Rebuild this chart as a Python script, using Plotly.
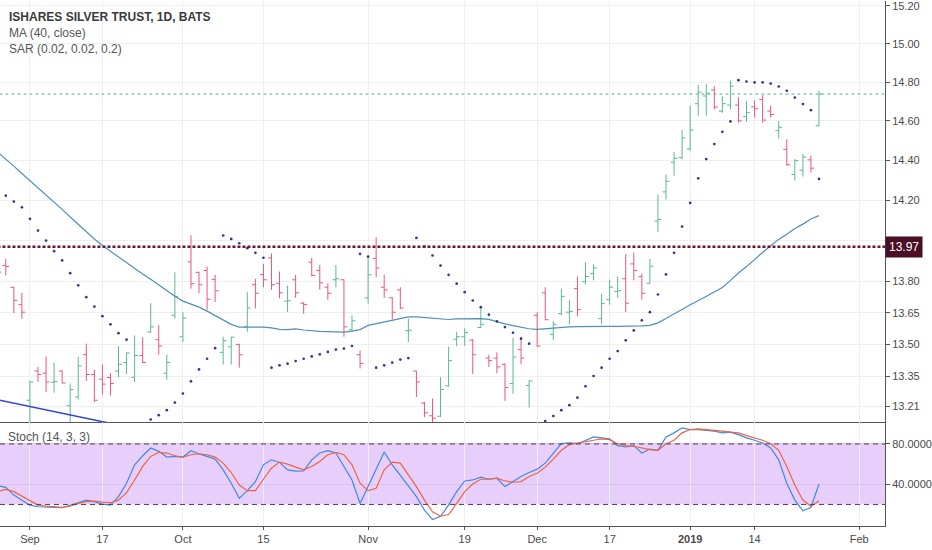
import math
import plotly.graph_objects as go

# ---------------- data ----------------
bar_dates = [
    "2018-08-28", "2018-08-29", "2018-08-30", "2018-08-31",
    "2018-09-04", "2018-09-05", "2018-09-06", "2018-09-07", "2018-09-10", "2018-09-11", "2018-09-12",
    "2018-09-13", "2018-09-14", "2018-09-17", "2018-09-18", "2018-09-19", "2018-09-20", "2018-09-21",
    "2018-09-24", "2018-09-25", "2018-09-26", "2018-09-27", "2018-09-28",
    "2018-10-01", "2018-10-02", "2018-10-03", "2018-10-04", "2018-10-05", "2018-10-08", "2018-10-09",
    "2018-10-10", "2018-10-11", "2018-10-12", "2018-10-15", "2018-10-16", "2018-10-17", "2018-10-18",
    "2018-10-19", "2018-10-22", "2018-10-23", "2018-10-24", "2018-10-25", "2018-10-26", "2018-10-29",
    "2018-10-30", "2018-10-31",
    "2018-11-01", "2018-11-02", "2018-11-05", "2018-11-06", "2018-11-07", "2018-11-08", "2018-11-09",
    "2018-11-12", "2018-11-13", "2018-11-14", "2018-11-15", "2018-11-16", "2018-11-19", "2018-11-20",
    "2018-11-21", "2018-11-23", "2018-11-26", "2018-11-27", "2018-11-28", "2018-11-29", "2018-11-30",
    "2018-12-03", "2018-12-04", "2018-12-06", "2018-12-07", "2018-12-10", "2018-12-11", "2018-12-12",
    "2018-12-13", "2018-12-14", "2018-12-17", "2018-12-18", "2018-12-19", "2018-12-20", "2018-12-21",
    "2018-12-24", "2018-12-26", "2018-12-27", "2018-12-28", "2018-12-31",
    "2019-01-02", "2019-01-03", "2019-01-04", "2019-01-07", "2019-01-08", "2019-01-09", "2019-01-10",
    "2019-01-11", "2019-01-14", "2019-01-15", "2019-01-16", "2019-01-17", "2019-01-18", "2019-01-22",
    "2019-01-23", "2019-01-24", "2019-01-25",
]
future_dates = ["2019-01-28", "2019-01-29", "2019-01-30", "2019-01-31", "2019-02-01"]

opens = [
    13.870, 13.878, 13.773, 13.689,
    13.238, 13.374, 13.364, 13.322, 13.374, 13.213, 13.253, 13.451, 13.358, 13.336, 13.344, 13.374,
    13.414, 13.345, 13.447, 13.558, 13.522, 13.364, 13.638,
    13.536, 13.896, 13.845, 13.854, 13.810, 13.462, 13.488, 13.500, 13.583, 13.785, 13.834, 13.915,
    13.792, 13.706, 13.809, 13.696, 13.894, 13.854, 13.773, 13.809, 13.809, 13.569, 13.451,
    13.722, 13.913, 13.773, 13.722, 13.760, 13.565, 13.374, 13.225, 13.166, 13.164, 13.305, 13.524,
    13.536, 13.520, 13.580, 13.435, 13.435, 13.406, 13.316, 13.475, 13.307,
    13.638, 13.746, 13.547, 13.646, 13.653, 13.766, 13.800, 13.840, 13.622, 13.713, 13.752, 13.814,
    13.886, 13.825, 13.792, 14.096, 14.241, 14.390, 14.413,
    14.457, 14.688, 14.728, 14.759, 14.650, 14.681, 14.681, 14.622, 14.672, 14.710, 14.650, 14.550,
    14.455, 14.328, 14.350, 14.402, 14.575,
]
highs = [
    13.930, 13.911, 13.775, 13.746,
    13.328, 13.393, 13.443, 13.414, 13.378, 13.316, 13.440, 13.503, 13.381, 13.405, 13.364, 13.491,
    13.462, 13.542, 13.533, 13.696, 13.591, 13.451, 13.845,
    13.653, 14.026, 13.848, 13.873, 13.833, 13.536, 13.536, 13.502, 13.749, 13.814, 13.886, 13.937,
    13.849, 13.781, 13.833, 13.702, 13.915, 13.881, 13.792, 13.881, 13.811, 13.638, 13.471,
    13.921, 14.017, 13.834, 13.725, 13.773, 13.622, 13.376, 13.230, 13.246, 13.345, 13.488, 13.560,
    13.577, 13.525, 13.680, 13.451, 13.462, 13.410, 13.531, 13.536, 13.330,
    13.653, 13.773, 13.610, 13.766, 13.713, 13.825, 13.894, 13.883, 13.742, 13.810, 13.825, 13.934,
    13.942, 13.838, 13.911, 14.228, 14.328, 14.443, 14.553,
    14.678, 14.787, 14.790, 14.779, 14.727, 14.808, 14.722, 14.701, 14.705, 14.732, 14.678, 14.600,
    14.506, 14.406, 14.431, 14.423, 14.755,
]
lows = [
    13.820, 13.830, 13.649, 13.622,
    13.120, 13.323, 13.276, 13.273, 13.316, 13.120, 13.241, 13.328, 13.230, 13.265, 13.260, 13.345,
    13.361, 13.323, 13.412, 13.555, 13.451, 13.334, 13.622,
    13.511, 13.766, 13.744, 13.665, 13.702, 13.405, 13.405, 13.390, 13.560, 13.671, 13.773, 13.760,
    13.720, 13.653, 13.722, 13.646, 13.825, 13.761, 13.713, 13.773, 13.536, 13.562, 13.386,
    13.694, 13.822, 13.722, 13.617, 13.668, 13.511, 13.253, 13.160, 13.130, 13.160, 13.300, 13.491,
    13.492, 13.361, 13.577, 13.394, 13.364, 13.235, 13.268, 13.406, 13.204,
    13.488, 13.615, 13.520, 13.638, 13.595, 13.633, 13.787, 13.806, 13.595, 13.689, 13.722, 13.653,
    13.806, 13.713, 13.790, 14.042, 14.203, 14.322, 14.406,
    14.448, 14.627, 14.627, 14.659, 14.642, 14.659, 14.591, 14.596, 14.617, 14.591, 14.617, 14.510,
    14.372, 14.298, 14.318, 14.338, 14.573,
]
closes = [
    13.846, 13.873, 13.710, 13.653,
    13.323, 13.358, 13.323, 13.325, 13.318, 13.288, 13.398, 13.358, 13.238, 13.313, 13.316, 13.406,
    13.459, 13.447, 13.414, 13.583, 13.492, 13.414, 13.729,
    13.625, 13.790, 13.785, 13.715, 13.756, 13.517, 13.534, 13.451, 13.673, 13.744, 13.809, 13.785,
    13.746, 13.708, 13.746, 13.689, 13.830, 13.794, 13.744, 13.814, 13.583, 13.612, 13.410,
    13.833, 13.866, 13.760, 13.653, 13.673, 13.567, 13.323, 13.180, 13.155, 13.288, 13.423, 13.536,
    13.556, 13.451, 13.595, 13.423, 13.394, 13.297, 13.440, 13.435, 13.328,
    13.492, 13.617, 13.595, 13.729, 13.656, 13.665, 13.825, 13.866, 13.694, 13.773, 13.756, 13.696,
    13.854, 13.744, 13.875, 14.104, 14.294, 14.410, 14.513,
    14.553, 14.748, 14.742, 14.671, 14.688, 14.779, 14.600, 14.642, 14.662, 14.604, 14.633, 14.567,
    14.377, 14.398, 14.416, 14.360, 14.738,
]

ma40 = [
    14.440,
    14.407, 14.370, 14.333, 14.297, 14.263, 14.229, 14.193, 14.154, 14.116, 14.079,
    14.043, 14.008, 13.976, 13.948, 13.919, 13.890, 13.862, 13.837, 13.811, 13.783,
    13.755, 13.729, 13.706, 13.691, 13.677, 13.658, 13.638, 13.615, 13.595, 13.582,
    13.582, 13.582, 13.582, 13.578, 13.571, 13.570, 13.573, 13.568, 13.564, 13.561,
    13.560, 13.559, 13.558, 13.563, 13.570, 13.590, 13.598, 13.607, 13.617, 13.622,
    13.631, 13.631, 13.628, 13.622, 13.619, 13.618, 13.621, 13.622, 13.622, 13.622,
    13.619, 13.607, 13.597, 13.589, 13.582, 13.574, 13.571, 13.574, 13.578, 13.582,
    13.583, 13.584, 13.585, 13.585, 13.585, 13.585, 13.585, 13.585, 13.586, 13.588,
    13.590, 13.602, 13.623, 13.646, 13.669, 13.689, 13.708, 13.728, 13.750, 13.772,
    13.806, 13.842, 13.873, 13.910, 13.942, 13.975, 14.006, 14.031, 14.059, 14.081,
    14.106, 14.123,
]

sar = [
    None,
    14.222, 14.193, 14.164, 14.107, 14.049, 14.000, 13.948, 13.903, 13.841, 13.782,
    13.725, 13.680, 13.634, 13.595, 13.553, 13.522, 13.120, 13.120, 13.149, 13.169,
    13.192, 13.227, 13.269, 13.326, 13.382, 13.432, 13.482, 14.025, 14.008, 13.987,
    13.963, 13.940, 13.916, 13.390, 13.401, 13.409, 13.421, 13.432, 13.443, 13.453,
    13.464, 13.475, 13.480, 13.492, 13.935, 13.922, 13.390, 13.401, 13.414, 13.428,
    13.435, 14.013, 13.971, 13.927, 13.878, 13.833, 13.790, 13.749, 13.709, 13.677,
    13.641, 13.609, 13.582, 13.555, 13.527, 13.503, 13.130, 13.142, 13.165, 13.192,
    13.215, 13.250, 13.303, 13.351, 13.390, 13.432, 13.468, 13.519, 13.566, 13.614,
    13.653, 13.738, 13.835, 13.940, 14.069, 14.186, 14.309, 14.406, 14.482, 14.544,
    14.597, 14.810, 14.803, 14.798, 14.798, 14.792, 14.777, 14.755, 14.720, 14.686,
    14.655, 14.306,
]

stoch_k = [
    38.5,
    37.0, 29.3, 24.3, 19.3, 17.7, 17.7, 17.0, 16.7, 19.3, 21.7,
    24.3, 22.7, 20.3, 19.3, 27.7, 41.0, 59.3, 68.3, 76.0, 72.7,
    67.0, 67.7, 67.0, 73.3, 70.0, 67.7, 65.0, 54.3, 41.0, 26.0,
    33.7, 42.7, 59.3, 64.3, 61.7, 54.3, 53.0, 53.3, 64.3, 71.0,
    73.3, 71.0, 57.7, 44.3, 21.0, 37.7, 54.3, 72.0, 59.3, 49.3,
    38.3, 27.7, 14.3, 5.0, 8.3, 19.3, 32.7, 43.3, 44.3, 47.0,
    45.0, 46.0, 37.7, 42.7, 47.7, 51.7, 55.0, 61.0, 71.0, 80.3,
    81.0, 80.3, 83.5, 87.0, 86.0, 85.0, 78.3, 77.0, 78.3, 71.0,
    75.0, 73.7, 87.0, 91.0, 96.0, 94.3, 94.3, 93.7, 92.7, 91.0,
    91.7, 89.3, 86.0, 83.7, 81.0, 76.0, 64.3, 41.0, 24.3, 13.7,
    17.0, 40.3,
]
stoch_d = [
    33.0,
    35.0, 32.7, 28.3, 23.3, 19.3, 18.3, 17.7, 17.0, 18.3, 21.0,
    22.7, 23.3, 22.3, 21.7, 24.3, 31.7, 44.3, 57.7, 67.7, 71.7,
    71.0, 68.3, 67.0, 69.3, 70.3, 69.3, 67.0, 61.0, 51.7, 39.3,
    33.7, 33.7, 45.0, 56.0, 62.0, 60.0, 57.0, 54.3, 57.7, 62.7,
    69.3, 71.7, 69.3, 59.3, 41.0, 33.7, 36.0, 54.3, 62.0, 61.0,
    49.3, 37.7, 24.3, 12.7, 8.3, 10.0, 21.0, 32.7, 40.3, 45.0,
    45.0, 46.0, 43.3, 42.0, 42.7, 47.7, 51.0, 57.0, 65.0, 73.7,
    79.3, 81.0, 82.0, 83.7, 85.0, 84.3, 80.3, 78.3, 77.7, 76.0,
    74.3, 73.7, 80.3, 83.7, 91.0, 94.3, 95.0, 94.3, 93.7, 92.7,
    91.7, 91.0, 88.3, 86.0, 83.7, 80.3, 73.7, 57.7, 39.3, 24.3,
    18.3, 23.7,
]

trend_dates = ["2018-08-28", "2018-09-21"]
trend_prices = [13.240, 13.108]

level_price = 13.97
last_price = 14.738

x_tick_dates = ["2018-09-04", "2018-09-17", "2018-10-01", "2018-10-15", "2018-11-01", "2018-11-19",
                "2018-12-03", "2018-12-17", "2019-01-02", "2019-01-14", "2019-02-01"]
x_tick_labels = ["Sep", "17", "Oct", "15", "Nov", "19", "Dec", "17", "<b>2019</b>", "14", "Feb"]

price_ticks = [13.21, 13.35, 13.50, 13.65, 13.80, 14.00, 14.20, 14.40, 14.60, 14.80, 15.00, 15.20]
price_tick_labels = ["13.21", "13.35", "13.50", "13.65", "13.80", "", "14.20", "14.40", "14.60",
                     "14.80", "15.00", "15.20"]
stoch_ticks = [40, 80]
stoch_tick_labels = ["40.0000", "80.0000"]
stoch_band = [20, 80]

# ---------------- layout constants ----------------
W, H = 932, 550
PLOT_W, PLOT_H = 888, 526
SPLIT = 422
sessions = bar_dates + future_dates
pos = {d: i for i, d in enumerate(sessions)}
xb = [pos[d] for d in bar_dates]
X_RANGE = [0.282, 110.2]
MAIN_RANGE = [math.log10(13.1365), math.log10(15.2266)]
STOCH_RANGE = [-1.4, 101.6]
dom_split = (PLOT_H - SPLIT) / PLOT_H

GREEN = "#5bb891"
RED = "#e9577a"
FONT = "Liberation Sans Narrow, Arial Narrow, Liberation Sans, Arial, sans-serif"
GRID = "#edf0f3"
AXIS = "#555555"

fig = go.Figure()

fig.add_trace(go.Scatter(x=xb, y=ma40, mode="lines", line=dict(color="#4f8fba", width=1.2),
                         hoverinfo="skip", xaxis="x", yaxis="y"))
fig.add_trace(go.Scatter(x=xb, y=sar, mode="markers",
                         marker=dict(symbol="circle", size=2.7, color="#2f3a88"),
                         hoverinfo="skip", xaxis="x", yaxis="y"))
fig.add_trace(go.Ohlc(x=xb, open=opens, high=highs, low=lows, close=closes,
                      increasing=dict(line=dict(color=GREEN, width=1)),
                      decreasing=dict(line=dict(color=RED, width=1)),
                      tickwidth=0.42, hoverinfo="skip", xaxis="x", yaxis="y"))
fig.add_trace(go.Scatter(x=[pos[d] for d in trend_dates], y=trend_prices, mode="lines",
                         line=dict(color="#3442d6", width=1.5), hoverinfo="skip",
                         xaxis="x", yaxis="y"))
fig.add_trace(go.Scatter(x=[-5, 120], y=[last_price, last_price], mode="lines",
                         line=dict(color="#4db39c", width=1, dash="dot"), hoverinfo="skip",
                         xaxis="x", yaxis="y"))
fig.add_trace(go.Scatter(x=[-5, 120], y=[level_price, level_price], mode="lines",
                         line=dict(color="#6a1634", width=2.5, dash="3px,2px"), hoverinfo="skip",
                         xaxis="x", yaxis="y"))

fig.add_trace(go.Scatter(x=xb, y=stoch_k, mode="lines", line=dict(color="#4187e8", width=1.2),
                         hoverinfo="skip", xaxis="x2", yaxis="y2"))
fig.add_trace(go.Scatter(x=xb, y=stoch_d, mode="lines", line=dict(color="#ef6440", width=1.2),
                         hoverinfo="skip", xaxis="x2", yaxis="y2"))

shapes = [
    dict(type="rect", xref="x2 domain", yref="y2", x0=0, x1=1, y0=stoch_band[0], y1=stoch_band[1],
         fillcolor="#e8cffb", line=dict(width=0), layer="below"),
    dict(type="line", xref="x2 domain", yref="y2", x0=0, x1=1, y0=stoch_band[1], y1=stoch_band[1],
         line=dict(color="#4d4150", width=1, dash="5px,4px"), layer="above"),
    dict(type="line", xref="x2 domain", yref="y2", x0=0, x1=1, y0=stoch_band[0], y1=stoch_band[0],
         line=dict(color="#4d4150", width=1, dash="5px,4px"), layer="above"),
]

def px_x(p):
    return p / PLOT_W

def px_y(p):
    return 1 - p / PLOT_H

annotations = [
    dict(text="<b>ISHARES SILVER TRUST, 1D, BATS</b>", xref="paper", yref="paper", x=px_x(7), y=px_y(16),
         xanchor="left", yanchor="middle", showarrow=False, font=dict(family=FONT, size=12, color="#3a3a3a")),
    dict(text="MA (40, close)", xref="paper", yref="paper", x=px_x(7), y=px_y(32.5),
         xanchor="left", yanchor="middle", showarrow=False, font=dict(family=FONT, size=12, color="#555555")),
    dict(text="SAR (0.02, 0.02, 0.2)", xref="paper", yref="paper", x=px_x(7), y=px_y(48.5),
         xanchor="left", yanchor="middle", showarrow=False, font=dict(family=FONT, size=12, color="#555555")),
    dict(text="Stoch (14, 3, 3)", xref="paper", yref="paper", x=px_x(6), y=px_y(437),
         xanchor="left", yanchor="middle", showarrow=False, font=dict(family=FONT, size=12, color="#555555")),
    dict(text="13.97", xref="paper", yref="y", x=1, y=math.log10(level_price),
         xanchor="left", yanchor="middle", showarrow=False, bgcolor="#4a0e25", borderpad=3,
         font=dict(family=FONT, size=12, color="#ffffff")),
]

tickfont = dict(family=FONT, size=11, color="#4a4a4a")
fig.update_layout(
    width=W, height=H, autosize=False,
    margin=dict(l=0, r=W - PLOT_W, t=0, b=H - PLOT_H),
    paper_bgcolor="white", plot_bgcolor="white",
    showlegend=False, hovermode=False,
    shapes=shapes, annotations=annotations,
    xaxis=dict(domain=[0, 1], anchor="y", range=X_RANGE, tickmode="array",
               tickvals=[pos[d] for d in x_tick_dates], showticklabels=False, ticks="",
               showgrid=True, gridcolor=GRID, showline=True, linecolor=AXIS, linewidth=1,
               zeroline=False, rangeslider=dict(visible=False), fixedrange=True),
    xaxis2=dict(domain=[0, 1], anchor="y2", range=X_RANGE, tickmode="array",
                tickvals=[pos[d] for d in x_tick_dates], ticktext=x_tick_labels,
                ticks="outside", ticklen=3, tickcolor=AXIS, tickfont=tickfont,
                showgrid=True, gridcolor=GRID, showline=True, linecolor=AXIS, linewidth=1,
                zeroline=False, rangeslider=dict(visible=False), fixedrange=True),
    yaxis=dict(domain=[dom_split, 1], anchor="x", type="log", range=MAIN_RANGE, side="right",
               tickmode="array", tickvals=price_ticks, ticktext=price_tick_labels,
               ticks="outside", ticklen=4, tickcolor=AXIS, tickfont=tickfont,
               ticklabeloverflow="allow",
               showgrid=True, gridcolor=GRID, showline=True, linecolor=AXIS, linewidth=1,
               zeroline=False, fixedrange=True),
    yaxis2=dict(domain=[0, dom_split], anchor="x2", range=STOCH_RANGE, side="right",
                tickmode="array", tickvals=stoch_ticks, ticktext=stoch_tick_labels,
                ticks="outside", ticklen=4, tickcolor=AXIS, tickfont=tickfont,
                showgrid=True, gridcolor="#d9c3ee", showline=True, linecolor=AXIS, linewidth=1,
                zeroline=False, fixedrange=True),
)

fig.write_html("out.html", config={"displayModeBar": False},
               post_script="document.body.style.margin='0';")
